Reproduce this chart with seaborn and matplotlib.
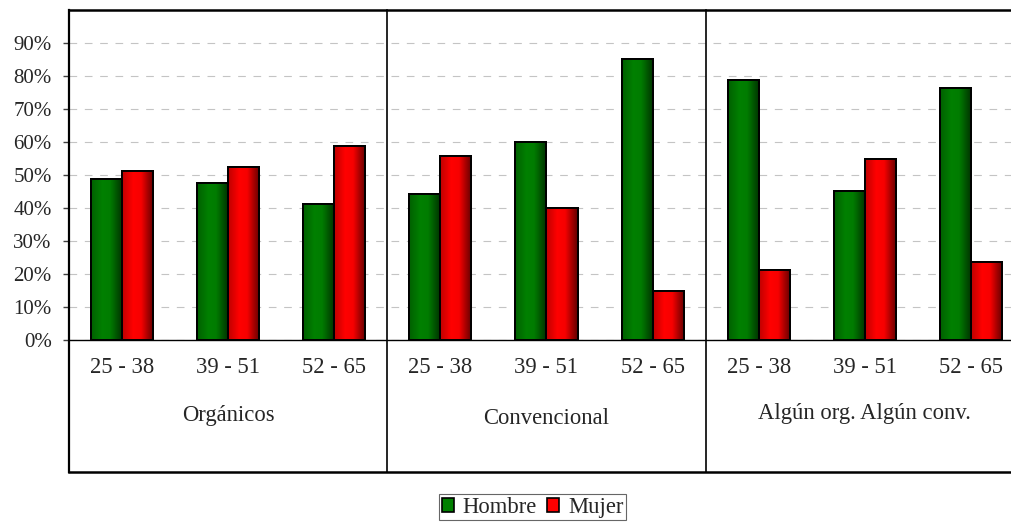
import numpy as np
import pandas as pd
import matplotlib
matplotlib.use("Agg")
import matplotlib.pyplot as plt
from matplotlib.colors import LinearSegmentedColormap
from matplotlib.patches import Rectangle, Patch
from matplotlib.ticker import FuncFormatter, FixedLocator
import seaborn as sns

# --- data -------------------------------------------------------------
grupos = ["Orgánicos", "Convencional", "Algún org. Algún conv."]
edades = ["25 - 38", "39 - 51", "52 - 65"]
hombre = [48.9, 47.6, 41.2, 44.1, 60.1, 85.3, 78.9, 45.3, 76.5]
mujer = [51.1, 52.4, 58.8, 55.9, 39.9, 14.7, 21.1, 54.7, 23.5]
sexos = ["Hombre", "Mujer"]
colores = {"Hombre": "#008000", "Mujer": "#ff0000"}

claves = [f"{g}|{e}" for g in grupos for e in edades]
df = pd.DataFrame({
    "clave": claves * 2,
    "sexo": ["Hombre"] * len(claves) + ["Mujer"] * len(claves),
    "valor": hombre + mujer,
})

# --- style ------------------------------------------------------------
sns.set_style("white")
plt.rcParams["font.family"] = ["Liberation Serif", "DejaVu Serif"]
FS_Y = 15
FS_X = 16.3

W, H = 1012, 522
fig = plt.figure(figsize=(W / 100, H / 100), dpi=100)
x0, x1, ytop, ybase, ybox = 69, 1024, 10, 340, 472
ax = fig.add_axes([x0 / W, 1 - ybase / H, (x1 - x0) / W, (ybase - ytop) / H])

sns.barplot(data=df, x="clave", y="valor", hue="sexo", order=claves,
            hue_order=sexos, palette=colores, width=0.585,
            edgecolor="black", linewidth=1.4, errorbar=None,
            legend=False, ax=ax, zorder=3)

ax.set_xlim(-0.5, len(claves) - 0.5)
ax.set_ylim(0, 100)

# horizontal shading on each bar (dark edges, bright centre)
def sombreado(base):
    c = np.array(matplotlib.colors.to_rgb(base))
    return LinearSegmentedColormap.from_list(
        "s", [(0.0, c * 0.75), (0.35, c), (0.6, c * 0.97), (1.0, c * 0.38)])

grad = np.linspace(0, 1, 64).reshape(1, -1)
for p in list(ax.patches):
    fc = p.get_facecolor()
    base = "#008000" if fc[1] > fc[0] else "#ff0000"
    x, y = p.get_x(), p.get_y()
    w, h = p.get_width(), p.get_height()
    im = ax.imshow(grad, extent=[x, x + w, y, y + h], aspect="auto",
                   cmap=sombreado(base), interpolation="bilinear", zorder=3.1)
    im.set_clip_path(p)
    ax.add_patch(Rectangle((x, y), w, h, fill=False, edgecolor="black",
                           linewidth=1.4, zorder=3.2))
ax.set_xlim(-0.5, len(claves) - 0.5)
ax.set_ylim(0, 100)
ax.set_aspect("auto")

# y axis
ax.yaxis.set_major_locator(FixedLocator(np.arange(0, 91, 10)))
ax.yaxis.set_major_formatter(FuncFormatter(lambda v, _: f"{v:.0f}%"))
ax.grid(axis="y", color="#c4c4c4", linewidth=0.8, dashes=(6.9, 6.9), zorder=0)
ax.grid(axis="x", visible=False)
ax.tick_params(axis="y", which="major", direction="out", length=4.5, width=1,
               color="#404040", pad=8, labelsize=FS_Y, left=True)

# x axis: age labels at centres, small ticks between categories
ax.set_xticks(range(len(claves)))
ax.set_xticklabels(edades * len(grupos))
ax.tick_params(axis="x", which="major", length=0, pad=12.5, labelsize=FS_X)
ax.set_xticks([i + 0.5 for i in range(len(claves) - 1)], minor=True)
ax.tick_params(axis="x", which="minor", direction="out", length=4,
               width=1, color="#808080")
ax.set_xlabel("")
ax.set_ylabel("")

for s in ["right", "top", "left", "bottom"]:
    ax.spines[s].set_visible(False)
ax.spines["bottom"].set_visible(True)
ax.spines["bottom"].set_color("black")
ax.spines["bottom"].set_linewidth(1.0)
ax.spines["bottom"].set_zorder(4)

# outer frame and group dividers (extending below the plot)
yb = -(ybox - ybase) / (ybase - ytop)
tr = ax.get_xaxis_transform()
kw = dict(color="black", clip_on=False, transform=tr, solid_capstyle="projecting")
ax.plot([-0.5, -0.5], [yb, 1], lw=1.6, zorder=5, **kw)
ax.plot([-0.5, len(claves) - 0.5], [1, 1], lw=1.8, zorder=5, **kw)
ax.plot([-0.5, len(claves) - 0.5], [yb, yb], lw=1.8, zorder=5, **kw)
for k in range(1, len(grupos)):
    xd = k * len(edades) - 0.5
    ax.plot([xd, xd], [yb, 1], lw=1.2, zorder=5, **kw)

# group names
for k, (g, yg) in enumerate(zip(grupos, [415, 418, 414])):
    ax.text(k * len(edades) + 1, -(yg - ybase) / (ybase - ytop), g,
            transform=tr, ha="center", va="center", fontsize=FS_X)

# legend
handles = [Patch(facecolor=colores[s], edgecolor="black", linewidth=1.2, label=s)
           for s in sexos]
leg = fig.legend(handles=handles, loc="upper center",
                 bbox_to_anchor=(532.5 / W, 1 - 494 / H), ncol=2,
                 fontsize=FS_X, frameon=True, fancybox=False, shadow=False,
                 handlelength=0.55, handleheight=0.55, handletextpad=0.38,
                 columnspacing=0.45, borderpad=0.12, borderaxespad=0)
leg.get_frame().set_edgecolor("#404040")
leg.get_frame().set_linewidth(0.8)

fig.savefig("out.png", dpi=100)
